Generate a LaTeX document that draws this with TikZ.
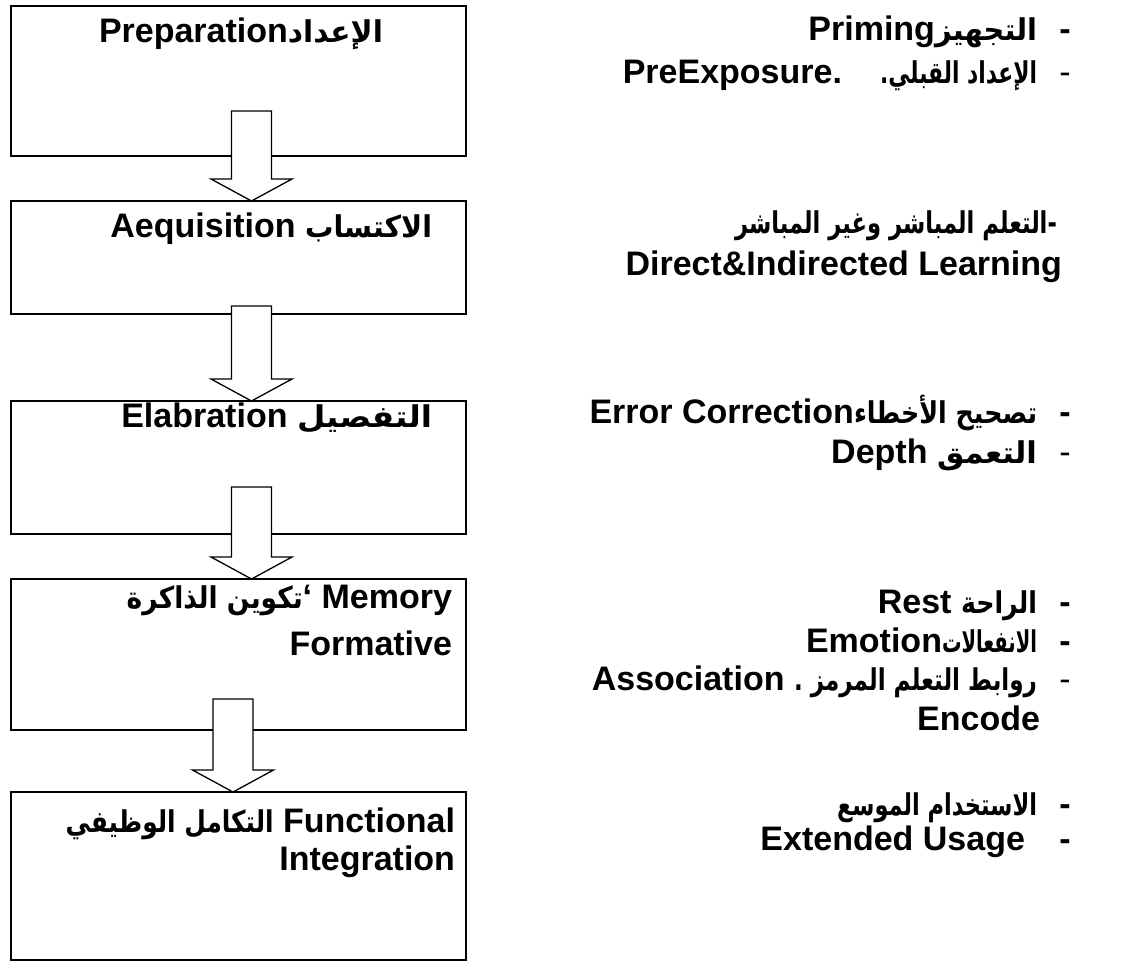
\documentclass[tikz,border=0pt]{standalone}
\usepackage{graphicx}
\usepackage{fontspec}
\setmainfont{Liberation Sans}
\newfontfamily\ar[Script=Arabic]{DejaVu Sans}
\TeXXeTstate=1
\usetikzlibrary{calc}
% Arabic run fitted to a given width (in pt)
\newcommand\arb[2]{\resizebox{#1pt}{\height}{\ar\fontsize{30}{36}\selectfont #2}}
% hollow block arrow pointing down to its tip coordinate
\newcommand\blockdown[3]{%
  \draw[blockarrow]
    ($(#1)+(-#3,-#2)$) -- ($(#1)+(#3,-#2)$) -- ($(#1)+(#3,-22)$) --
    ($(#1)+(40.5,-22)$) -- (#1) -- ($(#1)+(-40.5,-22)$) --
    ($(#1)+(-#3,-22)$) -- cycle;}

\begin{document}
\begin{tikzpicture}[x=1pt,y=-1pt,
  stage/.style={draw, line width=2pt, fill=white, minimum width=455pt,
    inner sep=0pt, outer sep=0pt, anchor=north west},
  txt/.style={inner sep=0pt, outer sep=0pt,
    font=\fontsize{34}{40}\selectfont\bfseries},
  dashb/.style={txt, anchor=base},
  dashr/.style={txt, anchor=base, font=\fontsize{34}{40}\selectfont\mdseries},
  blockarrow/.style={draw, fill=white, line width=1.3pt, line join=miter},
  ]
\useasboundingbox (0,0) rectangle (1126,962);

% stage boxes
\node[stage, minimum height=150pt] (b1) at (11,6) {};
\node[stage, minimum height=113pt] (b2) at (11,201) {};
\node[stage, minimum height=133pt] (b3) at (11,401) {};
\node[stage, minimum height=151pt] (b4) at (11,579) {};
\node[stage, minimum height=168pt] (b5) at (11,792) {};

% arrow tips on the top edge of the following box
\coordinate (t1) at ($(b2.north west)+(240.5,0)$);
\coordinate (t2) at ($(b3.north west)+(240.5,0)$);
\coordinate (t3) at ($(b4.north west)+(240.5,0)$);
\coordinate (t4) at ($(b5.north west)+(222,0)$);

\blockdown{t1}{90}{20}
\blockdown{t2}{95}{20}
\blockdown{t3}{92}{20}
\blockdown{t4}{93}{20}

% box titles
\node[txt, anchor=base west] (h1) at (99,42) {Preparation\arb{95}{\beginR الإعداد\endR}};
\node[txt, anchor=base east] (h2) at (432,237) {Aequisition \arb{127}{\beginR الاكتساب\endR}};
\node[txt, anchor=base east] (h3) at (432,427) {Elabration \arb{135}{\beginR التفصيل\endR}};
\node[txt, anchor=base east] (h4a) at (452,608) {\arb{176}{\beginR تكوين الذاكرة\endR}‘ Memory};
\node[txt, anchor=base east] (h4b) at (452,655) {Formative};
\node[txt, anchor=base east] (h5a) at (455,832) {\arb{208}{\beginR التكامل الوظيفي\endR} Functional};
\node[txt, anchor=base east] (h5b) at (455,870) {Integration};

% notes beside the boxes
\node[txt, anchor=base east] (n1) at (1037,40) {Priming\arb{102}{\beginR التجهيز\endR}};
\node[dashb] (d1) at (1065,40) {-};
\node[txt, anchor=base east] (n2) at (1037,83) {PreExposure.\hspace{38pt}\arb{157}{\beginR الإعداد القبلي.\endR}};
\node[dashr] (d2) at (1065,83) {-};

\node[txt, anchor=base east] (n3) at (1057,233) {\arb{322}{\beginR -التعلم المباشر وغير المباشر\endR}};
\node[txt, anchor=base east] (n4) at (1062,275) {Direct\&Indirected Learning};

\node[txt, anchor=base east] (n5) at (1037,423) {Error Correction\arb{183}{\beginR تصحيح الأخطاء\endR}};
\node[dashb] (d5) at (1065,423) {-};
\node[txt, anchor=base east] (n6) at (1037,463) {Depth \arb{100}{\beginR التعمق\endR}};
\node[dashr] (d6) at (1065,463) {-};

\node[txt, anchor=base east] (n7) at (1037,613) {Rest \arb{76}{\beginR الراحة\endR}};
\node[dashb] (d7) at (1065,613) {-};
\node[txt, anchor=base east] (n8) at (1037,652) {Emotion\arb{95}{\beginR الانفعالات\endR}};
\node[dashb] (d8) at (1065,652) {-};
\node[txt, anchor=base east] (n9) at (1037,690) {Association \arb{243}{\beginR روابط التعلم المرمز .\endR}};
\node[dashr] (d9) at (1065,690) {-};
\node[txt, anchor=base east] (n10) at (1040,730) {Encode};

\node[txt, anchor=base east] (n11) at (1037,815) {\arb{200}{\beginR الاستخدام الموسع\endR}};
\node[dashb] (d11) at (1065,815) {-};
\node[txt, anchor=base east] (n12) at (1025,850) {Extended Usage};
\node[dashb] (d12) at (1065,850) {-};
\end{tikzpicture}
\end{document}
